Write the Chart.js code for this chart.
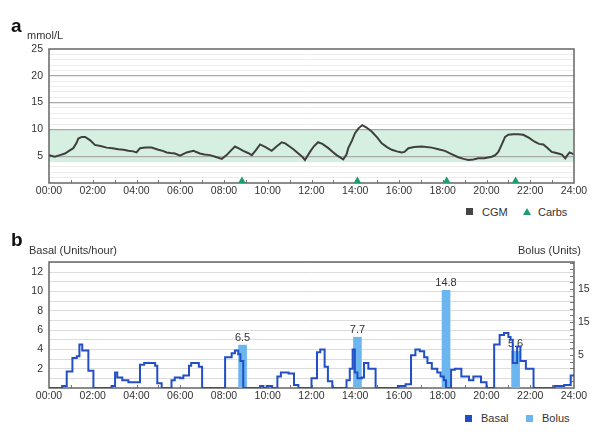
<!DOCTYPE html>
<html>
<head>
<meta charset="utf-8">
<script src="https://cdn.jsdelivr.net/npm/chart.js@4.4.1/dist/chart.umd.min.js"></script>
<style>
html,body{margin:0;padding:0;background:#fff;width:605px;height:442px;overflow:hidden;font-family:"Liberation Sans",Arial,Helvetica,sans-serif;color:#333}
canvas{position:absolute;left:0}
#ca{top:0}
#cb{top:230px}
.t{position:absolute;white-space:nowrap;line-height:1}
.big{font-weight:bold;font-size:19px;color:#111}
.sm{font-size:11px;color:#333}
.sq{position:absolute;width:7px;height:7px}
</style>
</head>
<body>
<canvas id="ca" width="605" height="200"></canvas>
<canvas id="cb" width="605" height="180"></canvas>

<div class="t big" style="left:11px;top:16px">a</div>
<div class="t sm" style="left:27px;top:30px">mmol/L</div>
<div class="t big" style="left:11px;top:230px">b</div>
<div class="t sm" style="left:29px;top:245px">Basal (Units/hour)</div>
<div class="t sm" style="right:24px;top:245px">Bolus (Units)</div>

<div class="sq" style="left:466px;top:208px;background:#444"></div>
<div class="t sm" style="left:482px;top:207px">CGM</div>
<svg style="position:absolute;left:522px;top:207px" width="10" height="9"><polygon points="5,1 9,8 1,8" fill="#1c9c72"/></svg>
<div class="t sm" style="left:538px;top:207px">Carbs</div>

<div class="sq" style="left:465px;top:415px;background:#1f4fc0"></div>
<div class="t sm" style="left:481px;top:413px">Basal</div>
<div class="sq" style="left:526px;top:415px;background:#6cb6f0"></div>
<div class="t sm" style="left:542px;top:413px">Bolus</div>

<script>
// ---------- data ----------
const xTickValues = [0,2,4,6,8,10,12,14,16,18,20,22,24];
const xTickLabels = ['00:00','02:00','04:00','06:00','08:00','10:00','12:00','14:00','16:00','18:00','20:00','22:00','24:00'];

const cgmTimes = [0.0,0.27,0.5,0.73,0.95,1.11,1.25,1.34,1.5,1.65,1.87,2.1,2.35,2.64,2.9,3.17,3.4,3.63,3.85,4.0,
  4.16,4.4,4.69,5.0,5.2,5.38,5.55,5.76,5.99,6.29,6.6,6.9,7.1,7.36,7.6,7.9,8.12,8.3,8.5,8.7,8.88,9.1,9.27,9.45,9.65,
  9.9,10.18,10.4,10.64,10.8,11.0,11.2,11.4,11.6,11.7,11.93,12.1,12.3,12.5,12.77,13.0,13.15,13.45,13.6,13.68,13.85,
  13.99,14.15,14.32,14.5,14.75,15.0,15.21,15.45,15.67,15.9,16.12,16.25,16.43,16.7,17.04,17.5,17.8,18.1,18.4,18.71,
  18.95,19.17,19.4,19.62,19.9,20.24,20.4,20.54,20.7,20.85,21.0,21.23,21.45,21.68,21.95,22.2,22.4,22.6,22.8,22.98,
  23.1,23.28,23.45,23.6,23.7,23.8,23.97];
const cgmValues = [5.2,4.9,5.2,5.5,6.1,6.5,7.4,8.3,8.6,8.6,8.0,7.1,6.9,6.6,6.5,6.3,6.2,6.0,5.9,5.7,
  6.5,6.6,6.6,6.2,6.0,5.7,5.6,5.5,5.1,5.7,6.0,5.5,5.3,5.2,4.9,4.5,5.2,6.0,6.8,6.4,6.0,5.6,5.2,6.1,7.2,
  6.7,6.0,6.8,7.6,7.4,6.8,6.2,5.5,4.8,4.3,5.8,6.8,7.6,7.3,6.5,5.7,5.2,4.4,5.3,6.5,7.9,
  9.3,10.2,10.8,10.4,9.6,8.5,7.4,6.7,6.2,5.9,5.7,5.8,6.5,6.7,6.8,6.6,6.3,6.0,5.4,4.8,
  4.5,4.3,4.4,4.6,4.6,4.9,5.2,5.8,7.2,8.6,9.0,9.1,9.1,9.0,8.4,7.7,7.3,7.2,6.5,5.8,
  5.7,5.5,5.3,4.6,5.2,5.7,5.4];

const carbTimes = [8.82, 14.1, 18.18, 21.33];
const carbMarkerLevel = 0.4;
const targetRange = [3.9, 10];
const glucoseTickValues = [5,10,15,20,25];
const glucoseTickLabels = ['5','10','15','20','25'];

const basalTimes = [0,0.6,0.81,1.07,1.27,1.39,1.52,1.8,2.03,2.86,3.02,3.12,3.35,3.63,4.16,4.35,4.85,4.95,5.15,
  5.6,5.75,6.0,6.14,6.4,6.5,6.85,7.0,8.05,8.35,8.5,8.65,8.75,8.88,9.65,9.8,9.95,10.2,10.44,10.6,10.95,11.2,11.4,
  12.0,12.25,12.4,12.6,12.75,12.95,13.6,13.75,13.88,13.98,14.1,14.3,14.4,14.6,14.93,15.95,16.3,16.55,16.75,16.95,
  17.15,17.3,17.5,17.75,17.9,18.05,18.15,18.38,18.55,18.85,19.2,19.4,19.75,20.0,20.35,20.6,20.8,21.0,21.1,21.2,
  21.4,21.55,21.8,22.15,23.1,23.55,23.85,24];
const basalRates = [0,0.2,1.7,3.1,3.3,4.5,3.9,1.8,0,0.2,1.6,1.1,0.8,0.6,2.4,2.6,2.3,0.5,0,
  0.8,1.1,1.0,1.3,2.3,2.6,2.2,0,3.2,3.6,3.9,3.5,2.8,0,0.2,0,0.2,0,1.2,1.6,1.5,0.3,0,
  1.0,3.7,4.0,2.2,0.7,0,0.8,2.0,4.0,1.6,1.0,1.1,2.6,2.0,0,0.2,0.4,3.4,4.0,3.8,
  3.2,2.6,2.0,1.6,1.2,0.8,0,1.9,2.0,1.2,0.8,1.2,0.6,0,4.5,5.5,5.7,5.3,5.0,2.6,
  4.3,2.8,2.0,0,0.2,0.3,1.3,1.3];

const bolusTimes = [8.85, 14.1, 18.15, 21.33];
const bolusUnits = [6.5, 7.7, 14.8, 5.6];

const basalTickValues = [2,4,6,8,10,12];
const basalTickLabels = ['2','4','6','8','10','12'];
const bolusTickValues = [5,10,15];
const bolusTickLabels = ['5','15','15'];

// ---------- setup ----------
const FONT = {family:'"Liberation Sans", Arial, Helvetica, sans-serif', size:10.5};
Chart.defaults.font.family = FONT.family;
Chart.defaults.color = '#333';

function intRange(a, b){ const r=[]; for(let v=a; v<=b; v++) r.push(v); return r; }

const xScale = (h) => ({
  type:'linear', min:0, max:24, offset:false,
  afterBuildTicks: s => { s.ticks = xTickValues.map(v=>({value:v})); },
  ticks:{ callback: v => { const i = xTickValues.indexOf(v); return i>=0 ? xTickLabels[i] : ''; },
          font:FONT, color:'#333', padding:2, maxRotation:0, autoSkip:false },
  grid:{ drawOnChartArea:false, drawTicks:false },
  border:{ display:false },
  afterFit: s => { s.height = h; }
});

const framePlugin = {
  id:'frame',
  beforeDatasetsDraw(chart){
    const {ctx, chartArea:a, scales} = chart;
    ctx.save();
    ctx.strokeStyle = '#777'; ctx.lineWidth = 1;
    ctx.beginPath();
    for (let hr = 1; hr < 24; hr++) {
      const px = Math.round(scales.x.getPixelForValue(hr)) + 0.5;
      ctx.moveTo(px, a.bottom); ctx.lineTo(px, a.bottom - 3);
    }
    if (scales.y2) {
      for (let v = 1; v <= 19; v++) {
        const py = Math.round(scales.y2.getPixelForValue(v)) + 0.5;
        ctx.moveTo(a.right, py); ctx.lineTo(a.right - 4, py);
      }
    }
    ctx.stroke();
    ctx.strokeStyle = '#666'; ctx.lineWidth = 1.5;
    ctx.strokeRect(a.left, a.top, a.width, a.height);
    ctx.restore();
  }
};

const bandPlugin = {
  id:'band',
  beforeDraw(chart){
    const {ctx, chartArea:a, scales} = chart;
    const yTop = scales.y.getPixelForValue(targetRange[1]);
    const yBot = scales.y.getPixelForValue(targetRange[0]);
    ctx.save();
    ctx.fillStyle = '#d5efe0';
    ctx.fillRect(a.left, yTop, a.width, yBot - yTop);
    ctx.restore();
  }
};

const bolusLabelPlugin = {
  id:'bolusLabels',
  beforeDatasetsDraw(chart){
    const {ctx} = chart;
    const meta = chart.getDatasetMeta(1);
    ctx.save();
    ctx.font = '11px ' + FONT.family;
    ctx.fillStyle = '#333';
    ctx.textAlign = 'center';
    ctx.textBaseline = 'bottom';
    meta.data.forEach((bar, i) => { ctx.fillText(String(bolusUnits[i]), bar.x, bar.y - 2); });
    ctx.restore();
  }
};

// ---------- chart a ----------
new Chart(document.getElementById('ca'), {
  type:'line',
  data:{ datasets:[
    { label:'CGM', data: cgmTimes.map((t,i)=>({x:t, y:cgmValues[i]})),
      borderColor:'#3f3f3f', borderWidth:2, pointRadius:0, tension:0, order:1 },
    { label:'Carbs', type:'scatter', data: carbTimes.map(t=>({x:t, y:carbMarkerLevel})),
      pointStyle:'triangle', pointRadius:4.3, backgroundColor:'#1c9c72', borderColor:'#1c9c72',
      borderWidth:0, clip:false, order:0 }
  ]},
  options:{
    responsive:false, animation:false, devicePixelRatio:1,
    layout:{ padding:{ top:49, left:0, right:31, bottom:0 } },
    plugins:{ legend:{display:false}, tooltip:{enabled:false} },
    scales:{
      x: xScale(17),
      y: { type:'linear', min:0, max:25,
        afterBuildTicks: s => { s.ticks = intRange(0,25).map(v=>({value:v})); },
        ticks:{ callback: v => { const i = glucoseTickValues.indexOf(v); return i>=0 ? glucoseTickLabels[i] : ''; },
                font:FONT, color:'#333', padding:6, autoSkip:false },
        grid:{ drawTicks:false,
          color: c => { const v = c.tick.value; if (v===0 || v===25) return 'rgba(0,0,0,0)';
            if (v % 5 === 0) return '#aaaaaa';
            if (v > targetRange[0] && v < targetRange[1]) return 'rgba(0,0,0,0)';
            return '#ececec'; },
          lineWidth: c => (c.tick.value % 5 === 0 ? 1.2 : 1) },
        border:{ display:false },
        afterFit: s => { s.width = 49; }
      }
    }
  },
  plugins:[bandPlugin, framePlugin]
});

// ---------- chart b ----------
new Chart(document.getElementById('cb'), {
  type:'line',
  data:{ datasets:[
    { label:'Basal', data: basalTimes.map((t,i)=>({x:t, y:basalRates[i]})), yAxisID:'y',
      borderColor:'#2250c4', borderWidth:2, pointRadius:0, stepped:true, order:0 },
    { label:'Bolus', type:'bar', data: bolusTimes.map((t,i)=>({x:t, y:bolusUnits[i]})), yAxisID:'y2',
      backgroundColor:'#6cb6f0', borderWidth:0, barThickness:8, grouped:false, order:1 }
  ]},
  options:{
    responsive:false, animation:false, devicePixelRatio:1,
    layout:{ padding:{ top:32, left:0, right:0, bottom:0 } },
    plugins:{ legend:{display:false}, tooltip:{enabled:false} },
    scales:{
      x: xScale(22),
      y: { type:'linear', position:'left', min:0, max:13.07,
        afterBuildTicks: s => { s.ticks = intRange(0,13).map(v=>({value:v})); },
        ticks:{ callback: v => { const i = basalTickValues.indexOf(v); return i>=0 ? basalTickLabels[i] : ''; },
                font:FONT, color:'#333', padding:6, autoSkip:false },
        grid:{ drawTicks:false, color: c => (c.tick.value===0 ? 'rgba(0,0,0,0)' : '#dcdcdc') },
        border:{ display:false },
        afterFit: s => { s.width = 49; }
      },
      y2: { type:'linear', position:'right', min:0, max:19.1,
        afterBuildTicks: s => { s.ticks = bolusTickValues.map(v=>({value:v})); },
        ticks:{ callback: v => { const i = bolusTickValues.indexOf(v); return i>=0 ? bolusTickLabels[i] : ''; },
                font:FONT, color:'#333', padding:4, autoSkip:false },
        grid:{ drawOnChartArea:false, drawTicks:false },
        border:{ display:false },
        afterFit: s => { s.width = 31; }
      }
    }
  },
  plugins:[framePlugin, bolusLabelPlugin]
});
</script>
</body>
</html>
